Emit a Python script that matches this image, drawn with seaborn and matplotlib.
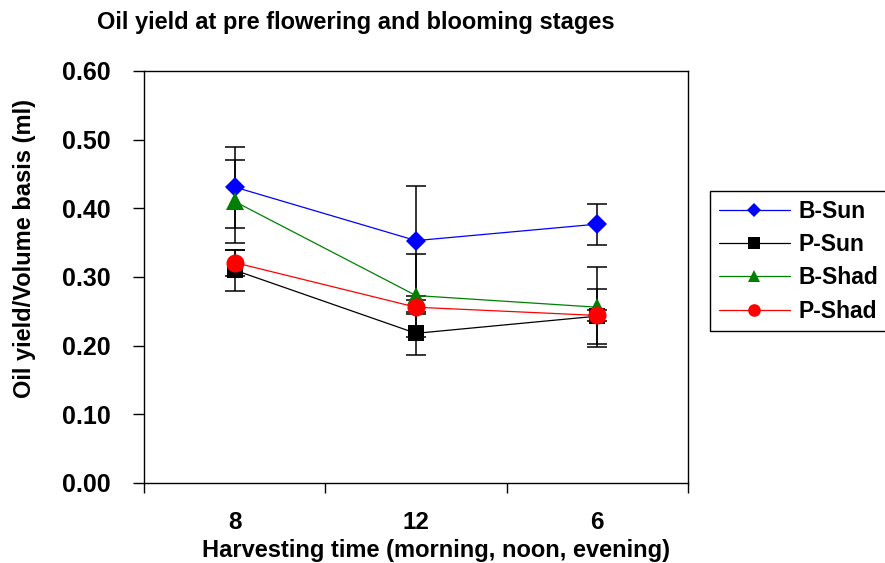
import numpy as np
import pandas as pd
import matplotlib
matplotlib.use("Agg")
import matplotlib.pyplot as plt
import seaborn as sns

# ---- data ----
times = ["8", "12", "6"]
series = ["B-Sun", "P-Sun", "B-Shad", "P-Shad"]
b_sun = [0.431, 0.353, 0.377]
p_sun = [0.310, 0.218, 0.243]
b_shad = [0.410, 0.273, 0.256]
p_shad = [0.321, 0.256, 0.244]
b_sun_err = [0.059, 0.080, 0.030]
p_sun_err = [0.030, 0.031, 0.040]
b_shad_err = [0.060, 0.060, 0.058]
p_shad_err = [0.019, 0.010, 0.008]
yticks = [0.0, 0.1, 0.2, 0.3, 0.4, 0.5, 0.6]

values = [b_sun, p_sun, b_shad, p_shad]
errors = [b_sun_err, p_sun_err, b_shad_err, p_shad_err]
colors = ["#0000FF", "#000000", "#008000", "#FF0000"]
markers = ["D", "s", "^", "o"]
msizes = [10, 12, 13, 13]

sns.set_theme(style="ticks")
plt.rcParams["font.family"] = ["Liberation Sans", "DejaVu Sans"]
plt.rcParams["font.weight"] = "bold"
for k in ["text.color", "axes.labelcolor", "xtick.color", "ytick.color", "axes.edgecolor"]:
    plt.rcParams[k] = "black"

fig = plt.figure(figsize=(8.85, 5.63), dpi=100)
ax = fig.add_axes([144 / 885, 1 - 483 / 563, (688 - 144) / 885, (483 - 71) / 563])

pos = np.arange(len(times))
for name, vals, errs, c, m, ms in zip(series, values, errors, colors, markers, msizes):
    df = pd.DataFrame({"x": pos, "y": vals})
    ax.errorbar(pos, vals, yerr=errs, fmt="none", ecolor="black", elinewidth=1.1,
                capsize=7, capthick=1.1, zorder=1)
    sns.lineplot(data=df, x="x", y="y", ax=ax, color=c, marker=m, markersize=ms,
                 markeredgewidth=0, linewidth=0.9, label=name, zorder=2, legend=False)

ax.set_xlim(-0.5, len(times) - 0.5)
ax.set_ylim(0, 0.6)
ax.set_xticks(np.arange(len(times) + 1) - 0.5)
ax.set_xticklabels([""] * (len(times) + 1))
ax.set_xticks(pos, minor=True)
ax.set_xticklabels(times, minor=True, fontsize=17.5, fontweight="bold")
ax.tick_params(axis="x", which="major", length=7, width=1, direction="out", color="black")
ax.tick_params(axis="x", which="minor", length=0, pad=20)
ax.set_yticks(yticks)
ax.set_yticklabels([f"{v:.2f}" for v in yticks], fontsize=18, fontweight="bold")
ax.tick_params(axis="y", length=8, width=1, direction="out", pad=16, color="black")
for s in ax.spines.values():
    s.set_visible(True)
    s.set_color("black")
    s.set_linewidth(1)

ax.set_xlabel("")
ax.set_ylabel("")
fig.text(436 / 885, 1 - 557 / 563, "Harvesting time (morning, noon, evening)",
         ha="center", va="baseline", fontsize=17, fontweight="bold")
fig.text(25 / 885, 1 - 249 / 563, "Oil yield/Volume basis (ml)", rotation=90,
         ha="center", va="center", fontsize=17, fontweight="bold")
fig.text(356 / 885, 1 - 23 / 563, "Oil yield at pre flowering and blooming stages",
         ha="center", va="center", fontsize=17, fontweight="bold")

handles = [l for l in ax.get_lines() if l.get_label() in series]
leg = fig.legend(handles, series, loc="upper left",
                 bbox_to_anchor=(710 / 885, 1 - 191 / 563), frameon=True,
                 fancybox=False, edgecolor="black", framealpha=1,
                 prop={"size": 16.5, "weight": "bold"}, markerscale=0.7,
                 handlelength=3.1, handletextpad=0.4, labelspacing=0.45,
                 borderpad=0.38, borderaxespad=0)
leg.get_frame().set_linewidth(1)

fig.savefig("out.png", dpi=100)
